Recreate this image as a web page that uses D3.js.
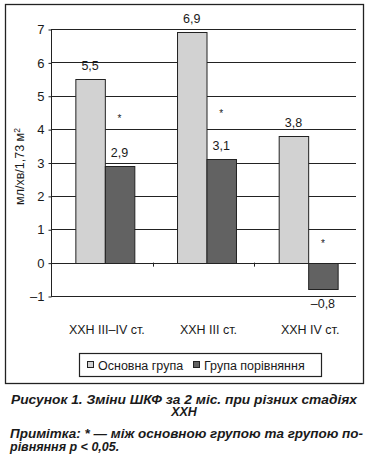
<!DOCTYPE html>
<html>
<head>
<meta charset="utf-8">
<script src="https://cdn.jsdelivr.net/npm/d3@7"></script>
<style>
  body { margin: 0; background: #fff; }
  text { font-family: "Liberation Sans", Arial, sans-serif; fill: #1a1a1a; }
</style>
</head>
<body>
<div id="chart"></div>
<script>
// data
const categories = ["ХХН III–IV ст.", "ХХН III ст.", "ХХН IV ст."];
const seriesNames = ["Основна група", "Група порівняння"];
const mainGroup = [5.5, 6.9, 3.8];
const compGroup = [2.9, 3.1, -0.8];
const starLevel = [4.35, 4.5, 0.62]; // where the * marks sit (y units)
const yTicks = [-1, 0, 1, 2, 3, 4, 5, 6, 7];

const W = 372, H = 462;
const margin = { top: 29, right: 16, bottom: 166, left: 51 };

const svg = d3.select("#chart").append("svg")
  .attr("width", W).attr("height", H);

// outer frame
svg.append("rect")
  .attr("x", 5.5).attr("y", 4.5)
  .attr("width", 358).attr("height", 379)
  .attr("fill", "none").attr("stroke", "#222").attr("stroke-width", 1.3);

const x0 = d3.scaleBand()
  .domain(categories)
  .range([margin.left, W - margin.right])
  .paddingInner(0.42).paddingOuter(0.21);

const x1 = d3.scaleBand()
  .domain([0, 1])
  .range([0, x0.bandwidth()]);

const y = d3.scaleLinear()
  .domain([-1, 7])
  .range([H - margin.bottom, margin.top]);

const g = svg.append("g");

// gridlines
g.selectAll(".grid")
  .data(yTicks)
  .join("line")
  .attr("x1", margin.left).attr("x2", W - margin.right)
  .attr("y1", d => Math.round(y(d)) + 0.5).attr("y2", d => Math.round(y(d)) + 0.5)
  .attr("stroke", "#222").attr("stroke-width", 1);

// left axis line
g.append("line")
  .attr("x1", margin.left + 0.5).attr("x2", margin.left + 0.5)
  .attr("y1", y(7)).attr("y2", y(-1))
  .attr("stroke", "#222");

// y ticks + labels
const yAxis = svg.append("g")
  .attr("transform", `translate(${margin.left + 0.5},0.5)`)
  .call(d3.axisLeft(y).tickValues(yTicks).tickSize(3).tickSizeOuter(0)
    .tickFormat(d => d < 0 ? "\u2013" + Math.abs(d) : d));
yAxis.select(".domain").remove();
yAxis.selectAll("line").attr("stroke", "#222");
yAxis.selectAll("text")
  .attr("x", -7)
  .style("font-size", "13px")
  .style("font-family", "Liberation Sans, Arial, sans-serif")
  .attr("fill", "#1a1a1a");

// category ticks on the zero line
const bounds = categories.slice(1).map(c => x0(c) - x0.step() * x0.paddingInner() / 2);
g.selectAll(".ctick")
  .data(bounds)
  .join("line")
  .attr("x1", d => Math.round(d) + 0.5).attr("x2", d => Math.round(d) + 0.5)
  .attr("y1", y(0)).attr("y2", y(0) + 4)
  .attr("stroke", "#222");

// bars
const rows = categories.map((c, i) => ({ c, vals: [mainGroup[i], compGroup[i]], star: starLevel[i] }));
const fills = ["#d2d2d2", "#626262"];

const grp = g.selectAll(".grp")
  .data(rows)
  .join("g")
  .attr("transform", d => `translate(${x0(d.c) + 3},0)`);

grp.selectAll("rect")
  .data(d => d.vals.map((v, k) => ({ v, k })))
  .join("rect")
  .attr("x", d => x1(d.k) + 0.5)
  .attr("width", x1.bandwidth())
  .attr("y", d => Math.round(y(Math.max(0, d.v))) + 0.5)
  .attr("height", d => Math.abs(Math.round(y(d.v)) - Math.round(y(0))))
  .attr("fill", d => fills[d.k])
  .attr("stroke", "#222").attr("stroke-width", 1);

const fmt = v => (v < 0 ? "\u2013" : "") + Math.abs(v).toFixed(1).replace(".", ",");

grp.selectAll(".lbl")
  .data(d => d.vals.map((v, k) => ({ v, k })))
  .join("text")
  .attr("x", d => x1(d.k) + x1.bandwidth() / 2)
  .attr("y", d => d.v >= 0 ? y(d.v) - 9 : y(d.v) + 19)
  .attr("text-anchor", "middle")
  .style("font-size", "12.5px")
  .text(d => fmt(d.v));

grp.append("text")
  .attr("x", x1(1) + x1.bandwidth() / 2)
  .attr("y", d => y(d.star) + 5)
  .attr("text-anchor", "middle")
  .style("font-size", "10px")
  .text("*");

// x labels
svg.selectAll(".xl")
  .data(categories)
  .join("text")
  .attr("x", d => x0(d) + x0.bandwidth() / 2 + 5)
  .attr("y", 334)
  .attr("text-anchor", "middle")
  .style("font-size", "12.5px")
  .text(d => d);

// y title
svg.append("text")
  .attr("transform", `translate(24,${(y(7) + y(-1)) / 2 + 4}) rotate(-90)`)
  .attr("text-anchor", "middle")
  .style("font-size", "12.5px")
  .html("мл/хв/1,73 м<tspan dy='-4' style='font-size:8.5px'>2</tspan>");

// legend
const leg = svg.append("g");
leg.append("rect")
  .attr("x", 79.5).attr("y", 353.5).attr("width", 242).attr("height", 23)
  .attr("fill", "#fff").attr("stroke", "#222").attr("stroke-width", 1.2);
const legX = [87, 193];
seriesNames.forEach((s, i) => {
  leg.append("rect")
    .attr("x", legX[i] + 0.5).attr("y", 361.5).attr("width", 6).attr("height", 6)
    .attr("fill", fills[i]).attr("stroke", "#222");
  leg.append("text")
    .attr("x", legX[i] + 11).attr("y", 369.5)
    .style("font-size", "12.5px")
    .text(s);
});

// caption
const cap = svg.append("g").style("font-weight", "bold").style("font-style", "italic");
cap.append("text")
  .attr("x", 184).attr("y", 403.5).attr("text-anchor", "middle")
  .attr("textLength", 346).attr("lengthAdjust", "spacingAndGlyphs")
  .style("font-size", "12.5px")
  .text("Рисунок 1. Зміни ШКФ за 2 міс. при різних стадіях");
cap.append("text")
  .attr("x", 184).attr("y", 416).attr("text-anchor", "middle")
  .style("font-size", "12.5px")
  .text("ХХН");
cap.append("text")
  .attr("x", 10).attr("y", 437.5)
  .attr("textLength", 353).attr("lengthAdjust", "spacingAndGlyphs")
  .style("font-size", "12.5px")
  .text("Примітка: * — між основною групою та групою по-");
cap.append("text")
  .attr("x", 10).attr("y", 450.5)
  .style("font-size", "12.5px")
  .text("рівняння р < 0,05.");
</script>
</body>
</html>
